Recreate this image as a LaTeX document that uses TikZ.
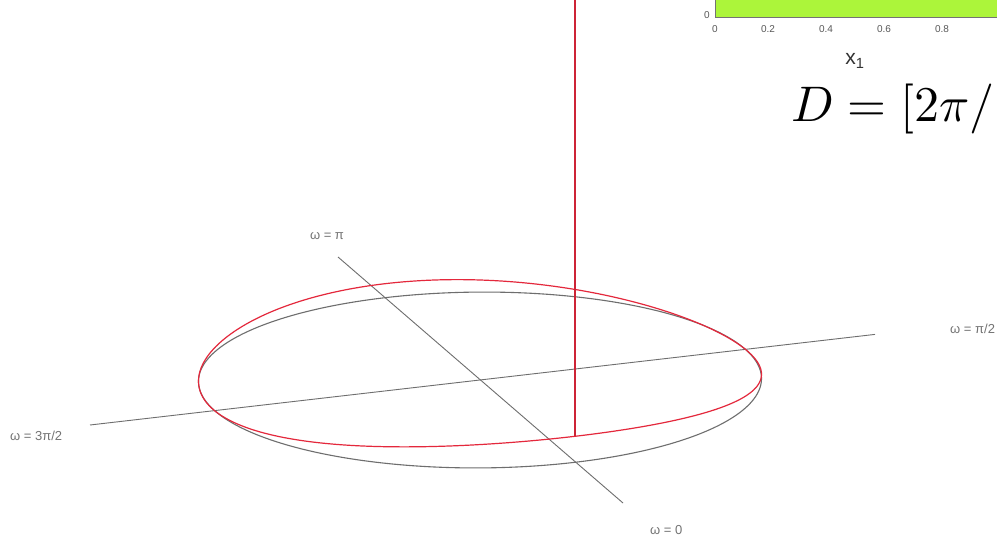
\documentclass[tikz,border=0pt]{standalone}
\usepackage{fontspec}
\newfontfamily\labfont{Liberation Sans}
\definecolor{plotgreen}{RGB}{172,245,58}
\definecolor{curvered}{RGB}{228,40,60}
\definecolor{axisgray}{RGB}{110,110,110}
\tikzset{
  axisline/.style={draw=axisgray, line width=0.9pt},
  graycurve/.style={draw=axisgray, line width=1.1pt},
  redcurve/.style={draw=curvered, line width=1.2pt},
  redpole/.style={draw=curvered!90!black, line width=2.4pt},
  omegalabel/.style={font=\labfont\fontsize{13}{15}\selectfont, text=black!55, inner sep=0pt},
  ticklabel/.style={font=\labfont\fontsize{10}{12}\selectfont, text=black!65, inner sep=0pt},
}
\begin{document}
\begin{tikzpicture}[x=1pt,y=-1pt]
\clip (0,0) rectangle (997,540);
\fill[white] (0,0) rectangle (997,540);

% --- inset plot (top right) ---
\fill[plotgreen] (715,-5) rectangle (1005,17);
\draw[black!55, line width=0.6pt] (715,-5) -- (715,17) -- (1005,17);
\node[ticklabel] (ty0) at (707,15) {0};
\node[ticklabel] (tx0) at (715,29) {0};
\node[ticklabel] (tx2) at (768,29) {0.2};
\node[ticklabel] (tx4) at (826,29) {0.4};
\node[ticklabel] (tx6) at (884,29) {0.6};
\node[ticklabel] (tx8) at (942,29) {0.8};
\node[font=\labfont\fontsize{21}{24}\selectfont, text=black!80, inner sep=0pt] (xlab) at (855,61) {x\textsubscript{1}};

% --- formula ---
\node[anchor=base west, inner sep=0pt, scale=5] (formula) at (790,122) {$D=[2\pi/$};

% --- axes of the base circle ---
\coordinate (c) at (480,380);
\coordinate (wl) at (90,425);
\coordinate (wr) at (875,334.4);
\coordinate (wt) at (338,257);
\coordinate (wb) at (623,503);
\draw[axisline] (wl) -- (wr);
\draw[axisline] (wt) -- (wb);

% --- gray base circle ---
\draw[graycurve] plot[domain=0:360, samples=240, smooth cycle]
  ({480+265*cos(\x)+95*sin(\x)},{380-31*cos(\x)+82.3*sin(\x)});

% --- red lifted curve ---
\draw[redcurve] plot[domain=0:360, samples=240, smooth cycle]
  ({480+265*cos(\x)+95*sin(\x)},{380-31*cos(\x)+82.3*sin(\x)-20*sin(\x)*sin(\x)-6*sin(\x)});

% --- red vertical line ---
\coordinate (rbase) at (575,436.3);
\coordinate (rtop) at (575,-2);
\draw[redpole] (rbase) -- (rtop);

% --- labels ---
\node[omegalabel] (lpi) at (327,236) {ω = π};
\node[omegalabel, anchor=west] (lpi2) at (950,329) {ω = π/2};
\node[omegalabel, anchor=west] (l3pi2) at (10,436) {ω = 3π/2};
\node[omegalabel, anchor=west] (l0) at (650,530) {ω = 0};
\end{tikzpicture}
\end{document}
